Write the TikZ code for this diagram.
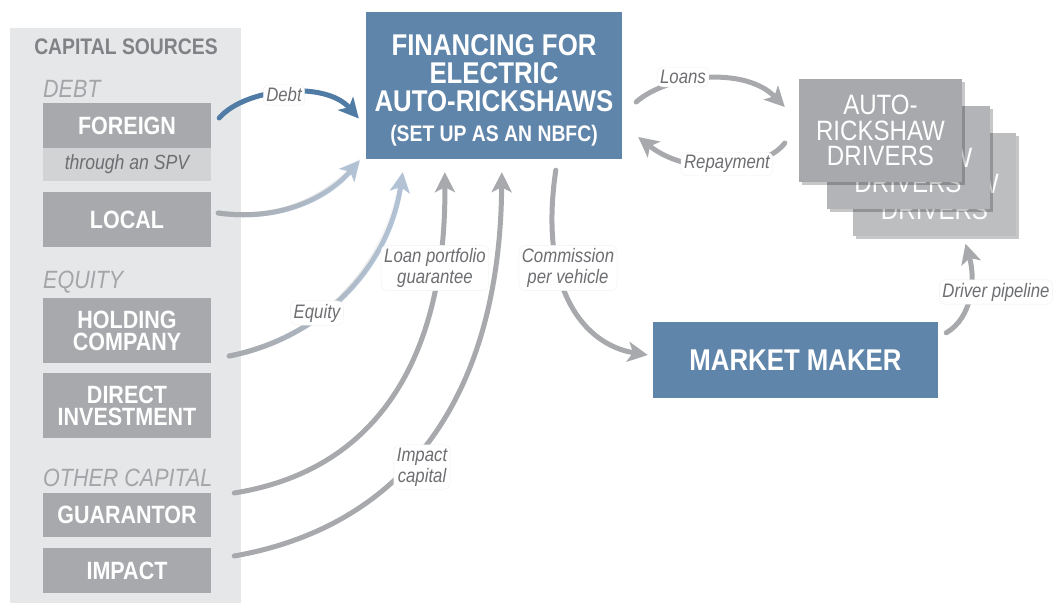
\documentclass[tikz,border=0pt]{standalone}
\usepackage{fontspec}
\setmainfont{Liberation Sans}[FakeStretch=0.86]
\usetikzlibrary{arrows.meta,shadows,fadings}
\definecolor{panel}{HTML}{E6E7E8}
\definecolor{srcgray}{HTML}{A7A9AC}
\definecolor{spvgray}{HTML}{D1D3D4}
\definecolor{titlegray}{HTML}{808285}
\definecolor{catgray}{HTML}{A3A5A8}
\definecolor{labelgray}{HTML}{6D6E71}
\definecolor{finblue}{HTML}{6085AA}
\definecolor{debtblue}{HTML}{4F7BA4}
\definecolor{lightblue}{HTML}{B3C3D6}
\definecolor{arrgray}{HTML}{A7A9AC}
\definecolor{drvA}{HTML}{A7A9AC}
\definecolor{drvB}{HTML}{B2B4B7}
\definecolor{drvC}{HTML}{BCBEC0}
\tikzfading[name=grayfade, left color=transparent!0, middle color=transparent!15, right color=transparent!100]
\tikzset{
  srcbox/.style={fill=srcgray, text=white, font=\bfseries\fontsize{25}{22}\selectfont,
    minimum width=168pt, inner sep=0pt, align=center},
  spvbox/.style={fill=spvgray, text=labelgray, font=\itshape\fontsize{20.5}{22}\selectfont,
    minimum width=168pt, inner sep=0pt},
  cat/.style={text=catgray, font=\itshape\fontsize{25}{26}\selectfont, inner sep=0pt},
  bluebox/.style={fill=finblue, text=white, inner sep=0pt, align=center},
  drvbox/.style={text=white, font=\fontsize{28}{25.5}\selectfont, inner sep=0pt, align=center,
    minimum width=163pt, minimum height=103pt,
    drop shadow={shadow xshift=3pt, shadow yshift=-3pt, fill=black, opacity=0.22}},
  arr/.style={line width=5pt, line cap=round, -{Stealth[length=20pt,width=20pt,inset=5pt]}},
  lbl/.style={fill=white, draw=black!6, rounded corners=6pt, text=labelgray,
    font=\itshape\fontsize{19.5}{21}\selectfont, align=center, inner sep=3pt},
}
\begin{document}
\begin{tikzpicture}[x=1pt,y=-1pt]
\useasboundingbox (0,0) rectangle (1053,603);
\fill[white] (0,0) rectangle (1053,603);
% capital sources panel
\fill[panel] (10,28) rectangle (241,603);
\node[text=titlegray, font=\bfseries\fontsize{22.5}{24}\selectfont, inner sep=0pt] (cs) at (126,47) {CAPITAL SOURCES};
\node[cat, anchor=west] (debt) at (43,89) {DEBT};
\node[srcbox, minimum height=45pt] (foreign) at (127,125.5) {FOREIGN};
\node[spvbox, minimum height=33pt] (spv) at (127,164.5) {through an SPV};
\node[srcbox, minimum height=55pt] (local) at (127,219.5) {LOCAL};
\node[cat, anchor=west] (equity) at (43,282) {EQUITY};
\node[srcbox, minimum height=65pt] (holding) at (127,330.5) {HOLDING\\COMPANY};
\node[srcbox, minimum height=65pt] (direct) at (127,405.5) {DIRECT\\INVESTMENT};
\node[cat, anchor=west] (other) at (43,478) {OTHER CAPITAL};
\node[srcbox, minimum height=44pt] (guar) at (127,515) {GUARANTOR};
\node[srcbox, minimum height=45pt] (impact) at (127,570.5) {IMPACT};
% financing box
\node[bluebox, minimum width=256pt, minimum height=147pt] (fin) at (494,85.5) {};
\node[text=white, font=\bfseries\fontsize{30}{28}\selectfont, align=center, inner sep=0pt] (fintxt) at (494,90)
  {FINANCING FOR\\ELECTRIC\\AUTO-RICKSHAWS\\[2pt]{\fontsize{22.5}{26}\selectfont (SET UP AS AN NBFC)}};
% market maker
\node[bluebox, minimum width=285pt, minimum height=76pt, font=\bfseries\fontsize{30}{30}\selectfont] (mm) at (795.5,360) {MARKET MAKER};
% drivers stack
\node[drvbox, fill=drvC] (drv3) at (934.5,184) {AUTO-\\RICKSHAW\\DRIVERS};
\node[drvbox, fill=drvB] (drv2) at (908,157.5) {AUTO-\\RICKSHAW\\DRIVERS};
\node[drvbox, fill=drvA] (drv1) at (880.5,130.5) {AUTO-\\RICKSHAW\\DRIVERS};
% connectors
\draw[arr, debtblue] ([shift={(8,-7.5)}]foreign.east) .. controls (245,88) and (325,80) .. ([shift={(-7,33)}]fin.west);
\draw[arr, lightblue] ([shift={(7,-6.5)}]local.east) .. controls (285,222) and (330,195) .. ([shift={(-6,1)}]fin.south west);
\draw[line width=5pt, line cap=round, arrgray, path fading=grayfade] ([shift={(7,-6.5)}]local.east) .. controls (285,222) and (330,195) .. ([shift={(-6,1)}]fin.south west);
\draw[arr, lightblue] ([shift={(18,25.5)}]holding.east) .. controls (320,338) and (388,270) .. ([shift={(37,13)}]fin.south west);
\draw[line width=5pt, line cap=round, arrgray, path fading=grayfade] ([shift={(18,25.5)}]holding.east) .. controls (320,338) and (388,270) .. ([shift={(37,13)}]fin.south west);
\draw[arr, arrgray] ([shift={(23,-22)}]guar.east) .. controls (390,468) and (446,340) .. ([shift={(79,13)}]fin.south west);
\draw[arr, arrgray] ([shift={(23,-14.5)}]impact.east) .. controls (410,525) and (500,390) .. ([shift={(136,13)}]fin.south west);
\draw[arr, arrgray] ([shift={(190,11)}]fin.south west) .. controls (538,290) and (585,345) .. ([shift={(-5,-5)}]mm.west);
\draw[arr, arrgray] ([shift={(14,16.5)}]fin.east) .. controls (668,74) and (745,66) .. ([shift={(-14,-23.5)}]drv1.west);
\draw[arr, arrgray] ([shift={(-14,12.5)}]drv1.west) .. controls (765,170) and (690,178) .. ([shift={(16,51.5)}]fin.east);
\draw[arr, arrgray] ([shift={(8,11)}]mm.north east) .. controls (972,318) and (976,280) .. ([shift={(31,8)}]drv3.south);
% labels
\node[lbl] (ldebt) at (284,95) {Debt};
\node[lbl] (lequity) at (317,313) {Equity};
\node[lbl] (lguar) at (435,268) {Loan portfolio\\guarantee};
\node[lbl] (lcomm) at (568,268) {Commission\\per vehicle};
\node[lbl] (limpact) at (422,467) {Impact\\capital};
\node[lbl] (lloans) at (683,77) {Loans};
\node[lbl] (lrepay) at (727,164) {Repayment};
\node[lbl] (ldriver) at (996,292) {Driver pipeline};
\end{tikzpicture}
\end{document}
